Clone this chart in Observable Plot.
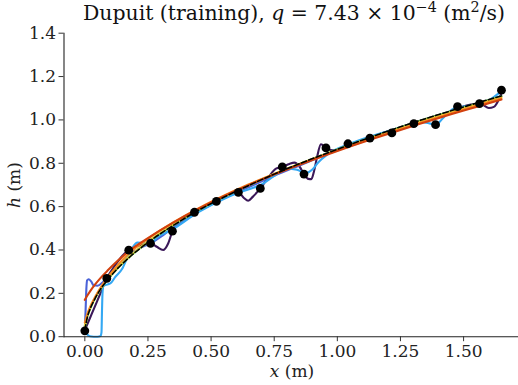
<!DOCTYPE html>
<html>
<head>
<meta charset="utf-8">
<script src="https://cdn.jsdelivr.net/npm/d3@7"></script>
<script src="https://cdn.jsdelivr.net/npm/@observablehq/plot@0.6"></script>
<style>
  html, body { margin: 0; padding: 0; background: #fff; }
  #chart svg { display: block; }
</style>
</head>
<body>
<div id="chart"></div>
<script>
// ---- data ----
const dotX = [0, 0.087, 0.174, 0.26, 0.347, 0.434, 0.521, 0.608, 0.695, 0.782, 0.868, 0.955, 1.042, 1.129, 1.216, 1.303, 1.389, 1.476, 1.563, 1.65];
const dotH = [0.027, 0.269, 0.399, 0.431, 0.487, 0.574, 0.624, 0.666, 0.684, 0.783, 0.750, 0.871, 0.890, 0.916, 0.940, 0.983, 0.978, 1.061, 1.075, 1.137];

const smoothX = [0, 0.01, 0.02, 0.04, 0.06, 0.09, 0.13, 0.18, 0.25, 0.35, 0.45, 0.55, 0.65, 0.75, 0.85, 0.95, 1.05, 1.15, 1.25, 1.35, 1.45, 1.55, 1.65];
const dashedH = [0.03, 0.09, 0.125, 0.175, 0.215, 0.262, 0.315, 0.37, 0.435, 0.513, 0.583, 0.643, 0.698, 0.75, 0.798, 0.843, 0.886, 0.928, 0.968, 1.006, 1.042, 1.077, 1.111];
const greenH = [0.04, 0.092, 0.126, 0.176, 0.216, 0.263, 0.316, 0.371, 0.436, 0.514, 0.584, 0.644, 0.699, 0.75, 0.797, 0.842, 0.885, 0.926, 0.966, 1.004, 1.04, 1.075, 1.109];
const yellowH = [0.05, 0.096, 0.129, 0.178, 0.218, 0.266, 0.319, 0.374, 0.439, 0.517, 0.587, 0.646, 0.7, 0.751, 0.797, 0.841, 0.883, 0.924, 0.963, 1.001, 1.037, 1.072, 1.106];
const orangeH = [0.065, 0.105, 0.135, 0.182, 0.222, 0.272, 0.33, 0.39, 0.452, 0.527, 0.592, 0.65, 0.703, 0.751, 0.796, 0.839, 0.88, 0.92, 0.958, 0.995, 1.031, 1.066, 1.1];
const redH = [0.17, 0.19, 0.208, 0.24, 0.268, 0.305, 0.35, 0.4, 0.455, 0.526, 0.59, 0.648, 0.7, 0.748, 0.793, 0.836, 0.877, 0.916, 0.954, 0.99, 1.026, 1.06, 1.094];

const blueX = [0, 0.003, 0.006, 0.009, 0.015, 0.025, 0.035, 0.05, 0.07, 0.087, 0.12, 0.17, 0.22, 0.26, 0.3, 0.35, 0.45, 0.55, 0.65, 0.75, 0.85, 0.95, 1.05, 1.15, 1.25, 1.35, 1.45, 1.55, 1.65];
const blueH = [0.035, 0.12, 0.22, 0.26, 0.265, 0.255, 0.237, 0.235, 0.25, 0.27, 0.31, 0.37, 0.41, 0.43, 0.46, 0.505, 0.578, 0.638, 0.69, 0.742, 0.79, 0.838, 0.882, 0.925, 0.963, 1.0, 1.037, 1.072, 1.11];

const lightBlueX = [0, 0.01, 0.02, 0.035, 0.05, 0.062, 0.066, 0.068, 0.07, 0.074, 0.085, 0.095, 0.105, 0.12, 0.148, 0.17, 0.188, 0.208, 0.235, 0.26, 0.287, 0.34, 0.45, 0.55, 0.6, 0.65, 0.7, 0.75, 0.8, 0.84, 0.875, 0.9, 0.925, 0.96, 1.05, 1.15, 1.25, 1.306, 1.335, 1.365, 1.389, 1.42, 1.46, 1.5, 1.565, 1.6, 1.652];
const lightBlueH = [0.03, 0.01, 0.002, 0, 0, 0.003, 0.02, 0.12, 0.2, 0.235, 0.24, 0.243, 0.25, 0.275, 0.313, 0.37, 0.41, 0.434, 0.432, 0.431, 0.459, 0.49, 0.575, 0.635, 0.66, 0.68, 0.702, 0.742, 0.775, 0.77, 0.755, 0.77, 0.805, 0.84, 0.89, 0.93, 0.965, 0.983, 0.99, 0.984, 0.977, 1.01, 1.052, 1.062, 1.073, 1.09, 1.135];

const purpleX = [0, 0.02, 0.04, 0.06, 0.087, 0.12, 0.15, 0.174, 0.2, 0.23, 0.26, 0.285, 0.31, 0.33, 0.347, 0.38, 0.434, 0.48, 0.521, 0.57, 0.608, 0.63, 0.647, 0.665, 0.695, 0.73, 0.757, 0.782, 0.81, 0.83, 0.85, 0.868, 0.885, 0.897, 0.907, 0.92, 0.935, 0.955, 0.98, 1.01, 1.05, 1.15, 1.25, 1.35, 1.45, 1.54, 1.57, 1.6, 1.62, 1.64, 1.652];
const purpleH = [0.03, 0.085, 0.14, 0.195, 0.269, 0.33, 0.375, 0.399, 0.415, 0.425, 0.431, 0.415, 0.40, 0.43, 0.487, 0.53, 0.574, 0.6, 0.624, 0.65, 0.666, 0.64, 0.627, 0.645, 0.684, 0.74, 0.775, 0.783, 0.797, 0.803, 0.785, 0.75, 0.728, 0.727, 0.76, 0.83, 0.888, 0.871, 0.86, 0.865, 0.886, 0.928, 0.966, 1.004, 1.04, 1.072, 1.072, 1.055, 1.06, 1.095, 1.13];

const xTicks = [0, 0.25, 0.5, 0.75, 1.0, 1.25, 1.5];
const yTicks = [0, 0.2, 0.4, 0.6, 0.8, 1.0, 1.2, 1.4];

const colors = {
  purple: "#3b1859", blue: "#4a62d8", lightBlue: "#34a8f3",
  green: "#7cf35a", yellow: "#e3d93a", orange: "#f78a20", red: "#d2400e"
};

const pts = (xArr, hArr) => xArr.map((x, i) => ({x, h: hArr[i]}));

const serif = "DejaVu Serif, serif";
const lw = 2.1;
const lineOpts = (stroke) => ({x: "x", y: "h", stroke, strokeWidth: lw, curve: "monotone-x"});

const plot = Plot.plot({
  width: 518,
  height: 385,
  marginLeft: 63.5,
  marginRight: 0,
  marginTop: 32.7,
  marginBottom: 48.8,
  style: {fontFamily: serif, fontSize: "17px", color: "#222", background: "white", overflow: "visible"},
  x: {domain: [-0.0825, 1.7175]},
  y: {domain: [0, 1.4]},
  marks: [
    Plot.line(pts(purpleX, purpleH), lineOpts(colors.purple)),
    Plot.line(pts(blueX, blueH), lineOpts(colors.blue)),
    Plot.line(pts(lightBlueX, lightBlueH), lineOpts(colors.lightBlue)),
    Plot.line(pts(smoothX, greenH), lineOpts(colors.green)),
    Plot.line(pts(smoothX, yellowH), lineOpts(colors.yellow)),
    Plot.line(pts(smoothX, orangeH), lineOpts(colors.orange)),
    Plot.line(pts(smoothX, redH), lineOpts(colors.red)),
    Plot.line(pts(smoothX, dashedH), {x: "x", y: "h", stroke: "black", strokeWidth: 1.6, strokeDasharray: "5.5,2.4", curve: "monotone-x"}),
    Plot.dot(pts(dotX, dotH), {x: "x", y: "h", r: 4.4, fill: "black", stroke: "none"}),
    Plot.frame({anchor: "left", stroke: "#222", strokeWidth: 1.1}),
    Plot.frame({anchor: "bottom", stroke: "#222", strokeWidth: 1.1}),
    Plot.axisX({ticks: xTicks, tickFormat: d => d.toFixed(2), tickSize: 5, tickPadding: 3, label: null, fontSize: 17, stroke: "#333"}),
    Plot.axisY({ticks: yTicks, tickFormat: d => d.toFixed(1), tickSize: 5, tickPadding: 3, label: null, fontSize: 17, stroke: "#333"})
  ]
});

document.getElementById("chart").appendChild(plot);

const svg = d3.select(plot);
// Title
const title = svg.append("text")
  .attr("x", 294).attr("y", 20)
  .attr("text-anchor", "middle")
  .attr("font-family", serif).attr("font-size", 20.4).attr("fill", "#111");
title.append("tspan").text("Dupuit (training), ");
title.append("tspan").attr("font-style", "italic").text("q");
title.append("tspan").text(" = 7.43 \u00d7 10");
title.append("tspan").attr("font-size", 14.3).attr("dy", -8.5).text("\u22124");
title.append("tspan").attr("dy", 8.5).text(" (m");
title.append("tspan").attr("font-size", 14.3).attr("dy", -8.5).text("2");
title.append("tspan").attr("dy", 8.5).text("/s)");

// x label
const xl = svg.append("text")
  .attr("x", 292).attr("y", 377)
  .attr("text-anchor", "middle")
  .attr("font-family", serif).attr("font-size", 17).attr("fill", "#222");
xl.append("tspan").attr("font-style", "italic").text("x");
xl.append("tspan").text(" (m)");

// y label
const yl = svg.append("text")
  .attr("transform", "translate(20,185) rotate(-90)")
  .attr("text-anchor", "middle")
  .attr("font-family", serif).attr("font-size", 17).attr("fill", "#222");
yl.append("tspan").attr("font-style", "italic").text("h");
yl.append("tspan").text(" (m)");
</script>
</body>
</html>
